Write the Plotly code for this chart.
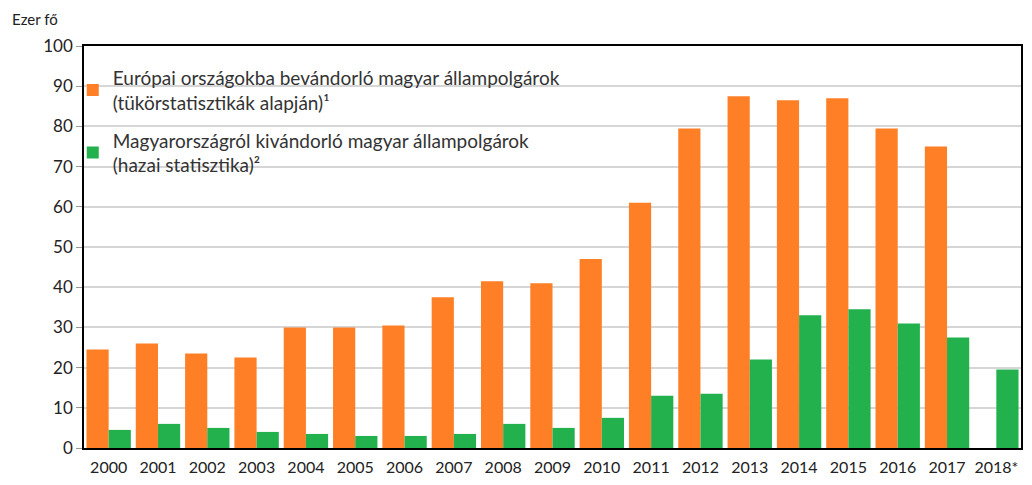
import plotly.graph_objects as go

years = ["2000", "2001", "2002", "2003", "2004", "2005", "2006", "2007", "2008", "2009",
         "2010", "2011", "2012", "2013", "2014", "2015", "2016", "2017", "2018*"]
europe_in = [24.5, 26, 23.5, 22.5, 30, 30, 30.5, 37.5, 41.5, 41, 47, 61, 79.5, 87.5, 86.5, 87, 79.5, 75, None]
hungary_out = [4.5, 6, 5, 4, 3.5, 3, 3, 3.5, 6, 5, 7.5, 13, 13.5, 22, 33, 34.5, 31, 27.5, 19.5]

name1 = "Európai országokba bevándorló magyar állampolgárok<br>(tükörstatisztikák alapján)¹"
name2 = "Magyarországról kivándorló magyar állampolgárok<br>(hazai statisztika)²"

fig = go.Figure()
fig.add_trace(go.Bar(x=years, y=europe_in, name=name1, legendgroup="a",
                     marker_color="#FF7F27", marker_line_width=0))
fig.add_trace(go.Bar(x=years, y=hungary_out, name=name2, legendgroup="b",
                     marker_color="#22B14C", marker_line_width=0))

font = "Lato, 'Open Sans', sans-serif"
fig.update_layout(
    width=1016, height=469,
    margin=dict(l=76, r=1, t=38, b=28),
    paper_bgcolor="white", plot_bgcolor="white",
    barmode="group", bargap=0.1, bargroupgap=0,
    font=dict(family=font, color="#222", size=14),
    showlegend=True,
    legend=dict(x=-0.012, y=0.968, xanchor="left", yanchor="top",
                bgcolor="rgba(255,255,255,0)", font=dict(size=19, color="#333"),
                tracegroupgap=10, itemwidth=30),
    annotations=[dict(text="Ezer fő", xref="paper", yref="paper", x=-0.0787, y=1.0, yshift=27,
                      xanchor="left", yanchor="middle", showarrow=False,
                      font=dict(size=15, family=font, color="#222"))],
)
fig.update_yaxes(range=[0, 100], dtick=10, showgrid=True, gridcolor="#D6D6D6", gridwidth=2,
                 showline=True, linecolor="black", linewidth=1.5, mirror=True,
                 ticks="outside", ticklen=6, tickcolor="#999", tickfont=dict(size=17),
                 zeroline=False)
fig.update_xaxes(showline=True, linecolor="black", linewidth=1.5, mirror=True,
                 ticks="", tickfont=dict(size=16), ticklabelstandoff=4)

fig.write_html("out.html")
